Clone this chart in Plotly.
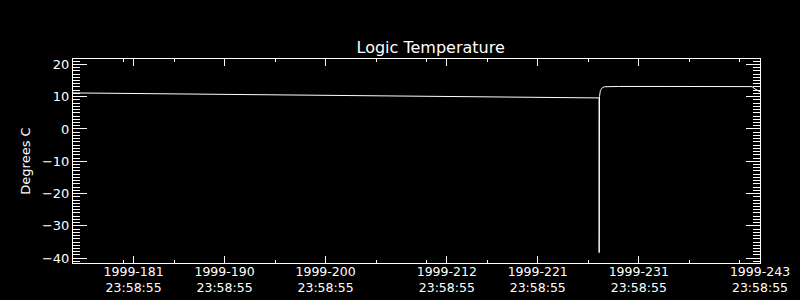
import pandas as pd
import plotly.graph_objects as go

# Day-of-year (1999, fractional, 181.0 = 1999-181 00:00:00) and Logic Temperature (deg C)
doy = [175.96, 180.0, 185.0, 190.0, 195.0, 200.0, 205.0, 210.0, 215.0, 220.0, 225.0, 228.07,
       228.08, 228.11, 228.2, 228.3, 228.4, 228.6, 230.0, 235.0, 240.0, 243.2, 243.5, 243.8, 244.0]
temp = [11.15, 11.03, 10.88, 10.74, 10.59, 10.44, 10.29, 10.14, 9.99, 9.85, 9.70, 9.6,
        -38.3, 10.0, 11.9, 12.5, 12.8, 13.05, 13.15, 13.15, 13.1, 13.1, 12.4, 11.8, 11.5]

major_days = [181, 190, 200, 212, 221, 231, 243]
minor_days = [175, 180, 185, 195, 205, 210, 216, 226, 236, 241]
tick_time = 23 * 3600 + 58 * 60 + 55  # 23:58:55
range_days = [175, 243]
y_range = [-41.5, 21.65]

base = pd.Timestamp("1999-01-01")


def to_dt(d):
    return base + pd.to_timedelta(d - 1, unit="D")


def tick_dt(d):
    return base + pd.to_timedelta(d - 1, unit="D") + pd.to_timedelta(tick_time, unit="s")


x = [to_dt(d) for d in doy]

fig = go.Figure()
fig.add_trace(go.Scatter(x=x, y=temp, mode="lines", line=dict(color="white", width=1),
                         showlegend=False, hoverinfo="skip"))

font = dict(family="DejaVu Sans", size=13, color="white")
xfont = dict(family="DejaVu Sans", size=12.5, color="white")

fig.update_layout(
    width=800, height=300,
    paper_bgcolor="black", plot_bgcolor="black",
    margin=dict(l=73, r=40, t=59, b=37, autoexpand=False),
    font=font,
    title=dict(text="Logic Temperature", x=(73 + 760) / 2 / 800, xanchor="center",
               xref="paper", yref="container", y=1 - 47 / 300, yanchor="middle",
               font=dict(family="DejaVu Sans", size=16, color="white")),
    xaxis=dict(
        type="date",
        range=[tick_dt(range_days[0]), tick_dt(range_days[1])],
        tickmode="array",
        tickvals=[tick_dt(d) for d in major_days],
        tickformat="%Y-%j<br>%H:%M:%S",
        ticks="inside", ticklen=7, tickwidth=1, tickcolor="white",
        minor=dict(tickmode="array", tickvals=[tick_dt(d) for d in minor_days],
                   ticks="inside", ticklen=3, tickwidth=1, tickcolor="white", showgrid=False),
        showline=True, linecolor="white", linewidth=1, mirror="ticks",
        showgrid=False, zeroline=False, automargin=False,
        tickfont=xfont, ticklabelstandoff=-3,
    ),
    yaxis=dict(
        range=y_range,
        tickmode="linear", tick0=0, dtick=10,
        ticks="inside", ticklen=14, tickwidth=1, tickcolor="white",
        minor=dict(tickmode="linear", dtick=1, ticks="inside", ticklen=7, tickwidth=1,
                   tickcolor="white", showgrid=False),
        showline=True, linecolor="white", linewidth=1, mirror="ticks",
        showgrid=False, zeroline=False, automargin=False,
        title=dict(text="Degrees C", font=font, standoff=8),
        tickfont=font,
    ),
)

fig.write_html("out.html")
